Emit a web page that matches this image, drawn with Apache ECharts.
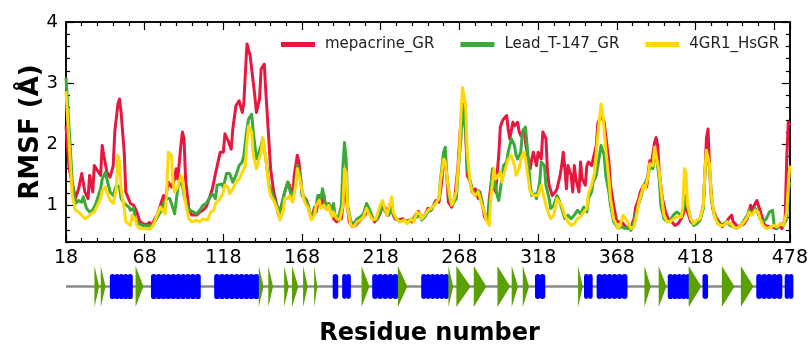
<!DOCTYPE html>
<html>
<head>
<meta charset="utf-8">
<script src="https://cdn.jsdelivr.net/npm/echarts@6/dist/echarts.min.js"></script>
<style>
  html, body { margin: 0; padding: 0; background: #fff; }
  #chart { width: 811px; height: 347px; }
</style>
</head>
<body>
<div id="chart"></div>
<script>
// RMSF per residue, [residue, value]
const mepacrine = [
  [18,2.30],[20,1.60],[24,1.11],[26,1.27],[28,1.52],[30,1.22],[32,1.11],[33,1.49],[35,1.22],[36,1.65],
  [38,1.57],[40,1.49],[41,1.98],[42,1.82],[44,1.54],[46,1.46],[48,1.65],[49,2.20],[51,2.66],[52,2.74],
  [53,2.52],[55,1.87],[56,1.22],[59,1.03],[61,1.00],[63,0.89],[65,0.73],[67,0.70],[69,0.68],[71,0.72],
  [73,0.67],[74,0.76],[76,0.84],[78,1.00],[80,1.16],[81,1.08],[83,1.38],[85,1.30],[87,1.43],[88,1.60],
  [89,1.43],[91,1.98],[92,2.20],[93,2.09],[94,1.43],[96,0.95],[98,0.84],[101,0.84],[103,0.89],[105,0.92],
  [107,0.97],[109,1.11],[111,1.27],[113,1.52],[114,1.49],[116,1.87],[118,1.87],[119,2.17],[121,2.06],[123,1.92],
  [124,2.25],[126,2.63],[128,2.71],[130,2.52],[131,2.68],[133,3.64],[135,3.45],[136,3.47],[138,2.79],[139,2.52],
  [141,2.74],[142,3.23],[144,3.31],[145,2.85],[147,2.03],[148,1.60],[150,1.22],[152,1.00],[153,0.84],[155,1.00],
  [157,1.22],[159,1.38],[160,1.33],[162,1.11],[163,1.49],[165,1.82],[166,1.71],[168,1.22],[169,1.14],[171,1.08],
  [172,0.95],[174,0.78],[176,0.97],[177,0.89],[179,1.16],[180,1.00],[182,1.16],[183,0.95],[185,1.03],[187,0.84],
  [188,0.78],[190,0.73],[193,0.78],[194,1.00],[195,1.38],[196,1.16],[198,0.73],[200,0.65],[202,0.67],[204,0.73],
  [206,0.78],[208,0.84],[210,0.95],[212,0.84],[214,0.73],[216,0.78],[218,0.89],[219,1.03],[221,0.95],[222,0.84],
  [224,1.03],[226,0.84],[227,0.78],[229,0.76],[232,0.78],[234,0.73],[236,0.76],[238,0.73],[240,0.84],[242,0.90],
  [244,0.80],[246,0.84],[248,0.95],[250,0.92],[253,1.08],[255,1.05],[257,1.43],[258,1.87],[260,1.49],[261,1.05],
  [263,0.97],[265,1.11],[267,1.60],[269,2.41],[270,2.63],[272,2.20],[273,1.49],[275,1.38],[276,1.22],[278,1.27],
  [280,1.11],[281,1.22],[283,0.97],[284,0.81],[286,0.73],[287,1.11],[289,1.54],[290,1.27],[291,1.22],[293,1.82],
  [294,2.28],[295,2.36],[296,2.41],[298,2.47],[299,2.25],[300,2.09],[302,2.36],[303,2.30],[305,2.36],[306,2.20],
  [307,2.14],[309,2.25],[310,2.03],[311,1.87],[313,1.60],[314,1.76],[315,1.87],[317,1.65],[318,1.87],[320,1.76],
  [321,2.20],[323,2.09],[324,1.54],[325,1.33],[327,1.16],[329,1.22],[330,1.27],[332,1.49],[333,1.65],[334,1.87],
  [335,1.60],[336,1.27],[337,1.65],[339,1.49],[340,1.22],[341,1.65],[342,1.43],[344,1.22],[345,1.71],[346,1.43],
  [348,1.33],[349,1.65],[350,1.71],[352,1.65],[353,1.76],[355,1.98],[356,2.35],[358,2.47],[360,2.36],[361,2.14],
  [363,1.71],[364,1.33],[366,1.00],[368,0.73],[369,0.70],[371,0.73],[373,0.67],[375,0.62],[377,0.65],[379,0.78],
  [380,0.97],[382,1.11],[383,1.22],[385,1.33],[387,1.30],[388,1.54],[389,1.73],[390,1.68],[392,2.03],[393,2.11],
  [394,1.98],[395,1.54],[397,1.11],[399,0.89],[401,0.76],[403,0.73],[405,0.67],[407,0.70],[409,0.78],[410,0.84],
  [412,1.00],[413,0.89],[415,0.73],[417,0.70],[419,0.73],[421,0.78],[423,1.00],[424,1.50],[425,2.10],[426,2.25],
  [427,1.60],[428,1.20],[429,0.95],[431,0.81],[433,0.73],[435,0.65],[437,0.70],[439,0.78],[441,0.84],[442,0.73],
  [445,0.65],[447,0.67],[449,0.70],[451,0.78],[453,1.00],[454,0.92],[456,1.03],[457,1.08],[459,0.92],[460,0.84],
  [462,0.67],[465,0.65],[467,0.65],[469,0.62],[471,0.67],[473,0.62],[475,0.78],[476,1.76],[477,2.36],[478,2.30]
];
const leadT147 = [
  [18,3.09],[20,2.25],[22,1.38],[24,1.03],[26,1.08],[28,1.05],[29,1.14],[31,0.95],[33,0.89],[35,0.92],
  [37,1.03],[40,1.27],[41,1.43],[43,1.54],[44,1.43],[46,1.22],[48,1.16],[50,1.33],[52,1.30],[53,1.11],
  [55,1.03],[58,0.97],[59,0.92],[61,0.95],[62,0.78],[64,0.70],[67,0.67],[70,0.66],[73,0.67],[75,0.76],
  [78,0.89],[80,1.03],[82,1.11],[84,1.11],[86,0.95],[87,0.86],[89,1.27],[90,1.38],[92,1.33],[93,1.16],
  [95,0.97],[97,0.92],[99,0.89],[101,0.86],[103,0.92],[105,1.00],[107,1.03],[109,1.11],[111,1.19],[113,1.11],
  [114,1.33],[117,1.35],[118,1.30],[120,1.52],[122,1.52],[124,1.38],[126,1.49],[128,1.65],[130,1.71],[131,1.82],
  [133,2.25],[134,2.41],[136,2.49],[137,2.20],[139,1.76],[140,1.82],[142,1.98],[143,2.09],[145,1.76],[147,1.33],
  [148,1.27],[150,1.11],[152,1.00],[153,0.84],[155,1.00],[157,1.22],[159,1.38],[160,1.27],[162,1.08],[164,1.38],
  [165,1.65],[167,1.49],[168,1.16],[170,1.11],[172,1.00],[174,0.78],[175,0.84],[177,1.00],[178,1.16],[180,1.11],
  [181,1.27],[183,1.00],[185,1.03],[186,0.89],[188,1.03],[189,0.84],[191,0.78],[193,1.00],[194,1.65],[195,2.03],
  [196,1.76],[197,1.00],[199,0.73],[201,0.70],[203,0.78],[205,0.81],[207,0.86],[209,1.03],[211,0.92],[213,0.78],
  [215,0.76],[217,0.84],[219,1.00],[221,0.89],[223,0.84],[225,0.95],[226,0.86],[228,0.78],[230,0.73],[233,0.76],
  [235,0.73],[237,0.76],[239,0.78],[241,0.81],[243,0.85],[244,0.76],[246,0.81],[248,0.89],[250,0.92],[253,1.05],
  [255,1.11],[256,1.43],[258,1.87],[259,1.95],[260,1.49],[262,1.08],[264,1.03],[266,1.11],[267,1.49],[269,2.09],
  [270,2.66],[272,2.25],[273,1.60],[275,1.38],[276,1.27],[278,1.16],[280,1.24],[282,1.11],[283,0.95],[285,0.84],
  [286,0.73],[288,1.27],[289,1.60],[290,1.43],[292,1.16],[293,1.08],[295,1.43],[296,1.65],[298,1.71],[299,1.87],
  [301,2.09],[303,1.98],[304,1.82],[305,1.76],[307,1.87],[308,2.20],[310,2.28],[311,1.98],[313,1.33],[314,1.16],
  [316,1.19],[317,1.11],[319,1.38],[320,1.71],[322,1.65],[323,1.33],[325,1.11],[326,0.95],[328,1.00],[330,1.16],
  [331,1.11],[333,0.95],[335,0.78],[337,0.84],[339,0.78],[341,0.84],[343,0.92],[345,0.86],[347,0.97],[349,0.89],
  [350,1.11],[352,1.22],[353,1.38],[355,1.49],[356,1.65],[358,1.98],[360,1.82],[361,1.49],[363,1.22],[364,1.00],
  [366,0.73],[369,0.62],[371,0.65],[373,0.62],[375,0.65],[377,0.59],[379,0.73],[381,0.95],[383,1.11],[385,1.30],
  [386,1.27],[388,1.49],[389,1.62],[391,1.60],[392,1.87],[393,1.82],[395,1.43],[396,1.00],[398,0.78],[400,0.73],
  [402,0.76],[404,0.84],[406,0.89],[409,0.84],[410,0.89],[412,1.16],[413,1.00],[415,0.78],[417,0.67],[419,0.70],
  [421,0.76],[423,0.95],[424,1.54],[425,1.87],[427,1.60],[428,1.11],[430,0.84],[432,0.73],[434,0.67],[436,0.70],
  [438,0.73],[440,0.67],[442,0.65],[444,0.62],[447,0.67],[449,0.76],[451,0.84],[452,0.92],[454,0.86],[456,0.95],
  [458,0.86],[459,0.78],[461,0.73],[463,0.78],[465,0.89],[467,0.92],[468,0.67],[470,0.62],[472,0.70],[474,0.67],
  [476,0.78],[477,1.22],[478,1.38]
];
const hsgr4GR1 = [
  [18,2.87],[20,1.98],[22,1.16],[24,0.92],[26,0.89],[28,0.84],[30,0.78],[32,0.81],[34,0.86],[36,0.89],
  [38,1.00],[40,1.11],[41,1.24],[43,1.30],[44,1.22],[46,1.08],[48,1.03],[50,1.27],[51,1.82],[52,1.71],
  [53,1.27],[55,0.95],[56,0.73],[59,0.67],[60,0.84],[62,0.78],[63,0.67],[65,0.62],[68,0.62],[71,0.61],
  [73,0.65],[75,0.78],[78,0.97],[79,1.00],[81,0.86],[82,1.22],[83,1.87],[85,1.82],[86,1.38],[87,1.22],
  [89,1.30],[91,1.49],[92,1.43],[94,1.03],[96,0.78],[98,0.73],[101,0.76],[103,0.73],[105,0.78],[108,0.76],
  [110,0.89],[112,0.92],[113,1.03],[116,1.11],[118,1.22],[119,1.33],[121,1.30],[122,1.19],[124,1.27],[126,1.38],
  [128,1.43],[130,1.54],[132,1.65],[133,2.03],[134,2.30],[136,2.20],[137,1.82],[139,1.60],[140,1.60],[142,1.87],
  [143,2.11],[145,1.76],[147,1.27],[148,1.16],[150,1.08],[152,0.95],[154,0.76],[156,0.89],[157,1.11],[159,1.11],
  [160,1.16],[162,1.05],[164,1.33],[165,1.60],[167,1.38],[169,1.11],[170,1.03],[172,0.95],[174,0.76],[176,0.84],
  [177,1.00],[179,1.08],[180,0.95],[182,1.00],[184,0.92],[185,1.00],[187,0.81],[188,0.89],[190,0.78],[192,0.76],
  [194,1.00],[195,1.60],[196,1.54],[197,0.95],[199,0.67],[201,0.65],[203,0.73],[205,0.76],[207,0.81],[209,0.95],
  [211,0.84],[213,0.76],[215,0.78],[217,0.95],[219,1.08],[220,1.00],[222,0.84],[224,1.03],[225,1.14],[226,0.89],
  [228,0.78],[230,0.73],[233,0.76],[235,0.70],[237,0.78],[239,0.73],[241,0.89],[243,0.86],[244,0.78],[246,0.84],
  [248,0.92],[250,0.95],[253,1.03],[255,1.11],[256,1.38],[258,1.76],[259,1.71],[261,1.27],[263,1.00],[264,1.05],
  [266,1.22],[268,1.87],[269,2.52],[270,2.93],[272,2.63],[273,1.87],[275,1.33],[276,1.22],[278,1.16],[280,1.22],
  [282,1.03],[284,0.89],[285,0.76],[287,0.67],[288,1.11],[290,1.60],[291,1.43],[292,1.43],[294,1.54],[295,1.38],
  [296,1.49],[298,1.65],[299,1.76],[301,1.82],[303,1.65],[304,1.49],[306,1.60],[307,1.76],[309,1.87],[310,1.76],
  [312,1.38],[313,1.22],[315,1.16],[316,1.19],[318,1.16],[320,1.33],[321,1.22],[323,1.00],[325,0.84],[326,0.78],
  [328,0.84],[330,1.11],[331,1.11],[333,1.00],[335,0.84],[337,0.73],[339,0.67],[341,0.70],[343,0.78],[345,0.81],
  [347,0.89],[349,0.95],[350,1.19],[352,1.33],[354,1.54],[355,1.87],[356,2.15],[357,2.41],[358,2.66],[359,2.52],
  [361,1.92],[363,1.43],[364,1.11],[366,0.78],[369,0.62],[370,0.67],[372,0.84],[373,0.86],[375,0.73],[377,0.62],
  [379,0.65],[381,0.89],[382,1.05],[384,1.22],[385,1.33],[386,1.27],[388,1.49],[389,1.68],[391,1.65],[392,1.95],
  [393,1.98],[395,1.54],[397,1.05],[398,0.84],[400,0.73],[402,0.73],[404,0.78],[406,0.81],[409,0.81],[410,1.00],
  [411,1.60],[412,1.54],[413,1.00],[415,0.78],[417,0.70],[419,0.76],[421,0.78],[423,1.00],[424,1.54],[425,1.90],
  [427,1.65],[428,1.16],[430,0.84],[432,0.70],[434,0.67],[436,0.67],[438,0.73],[440,0.70],[442,0.65],[444,0.62],
  [447,0.67],[449,0.73],[451,0.81],[452,0.89],[454,0.84],[456,0.92],[458,0.89],[459,0.78],[461,0.67],[463,0.62],
  [466,0.65],[468,0.67],[470,0.65],[472,0.70],[474,0.67],[476,0.89],[477,1.33],[478,1.65]
];

// secondary structure, [first residue, last residue]
const helices = [
  [46,60],[72,103],[112,140],[187,190],[193,198],[212,228],[243,260],[315,321],
  [346,351],[354,373],[399,413],[421,424],[455,471],[473,478]
];
const strands = [
  [36,39],[40,43],[62,67],[140,143],[146,149],[156,159],[161,165],[168,171],[175,177],
  [205,210],[228,234],[260,263],[265,274],[276,284],[291,299],[300,304],[307,311],
  [342,345],[384,388],[393,398],[412,420],[433,441],[445,453]
];

const xTickLabels = [18, 68, 118, 168, 218, 268, 318, 368, 418, 478];
const xMajorTicks = [18, 68, 118, 168, 218, 268, 318, 368, 418, 468, 478];
const yTickLabels = [1, 2, 3, 4];
const yMinorTicks = [0.4, 0.6, 0.8, 1.2, 1.4, 1.6, 1.8, 2.2, 2.4, 2.6, 2.8, 3.2, 3.4, 3.6, 3.8];

const seriesNames = ['mepacrine_GR', 'Lead_T-147_GR', '4GR1_HsGR'];
const seriesColors = ['#e8173f', '#3aaa3a', '#ffd80a'];

let xMinorTicks = [];
for (let r = 28; r < 478; r += 10) {
  if (xMajorTicks.indexOf(r) < 0) xMinorTicks.push(r);
}

const FONT = 'DejaVu Sans';
const chart = echarts.init(document.getElementById('chart'), null, {renderer: 'canvas'});

const axisLine = {show: true, lineStyle: {color: '#000', width: 1.5}};
const tickAxis = (pos, ticks, len, extra) => Object.assign({
  gridIndex: 0, type: 'value', position: pos, min: 18, max: 478,
  axisLine: axisLine,
  axisTick: {show: true, inside: true, length: len, customValues: ticks, lineStyle: {color: '#000', width: 1.2}},
  axisLabel: {show: false},
  splitLine: {show: false}
}, extra || {});
const tickYAxis = (pos, ticks, len, extra) => Object.assign({
  gridIndex: 0, type: 'value', position: pos, min: 0.4, max: 4,
  axisLine: axisLine,
  axisTick: {show: true, inside: true, length: len, customValues: ticks, lineStyle: {color: '#000', width: 1.2}},
  axisLabel: {show: false},
  splitLine: {show: false}
}, extra || {});

const options = {
  animation: false,
  textStyle: {fontFamily: FONT},
  grid: [
    {left: 66, right: 18, top: 22, bottom: 105},
    {left: 66, right: 18, top: 268, height: 50}
  ],
  legend: {
    left: 276, top: 32,
    itemWidth: 34, itemHeight: 5, itemGap: 26,
    icon: 'rect',
    textStyle: {fontFamily: FONT, fontSize: 15, color: '#222', padding: [0, 0, 0, 5]},
    data: seriesNames
  },
  xAxis: [
    tickAxis('bottom', xMajorTicks, 8, {
      axisLabel: {show: true, customValues: xTickLabels, fontSize: 19, color: '#000', margin: 7, fontFamily: FONT}
    }),
    tickAxis('bottom', xMinorTicks, 4),
    tickAxis('top', xMajorTicks, 8),
    tickAxis('top', xMinorTicks, 4),
    {
      gridIndex: 1, type: 'value', min: 18, max: 478, position: 'bottom',
      axisLine: {show: false}, axisTick: {show: false}, axisLabel: {show: false}, splitLine: {show: false},
      name: 'Residue number', nameLocation: 'middle', nameGap: 17, nameMoveOverlap: false,
      nameTextStyle: {fontFamily: FONT, fontSize: 24, fontWeight: 'bold', color: '#000'}
    }
  ],
  yAxis: [
    tickYAxis('left', yTickLabels, 8, {
      axisLabel: {show: true, customValues: yTickLabels, fontSize: 18, color: '#000', margin: 8, fontFamily: FONT},
      name: 'RMSF (Å)', nameLocation: 'middle', nameGap: 22, nameRotate: 90, nameMoveOverlap: false,
      nameTextStyle: {fontFamily: FONT, fontSize: 26, fontWeight: 'bold', color: '#000'}
    }),
    tickYAxis('left', yMinorTicks, 4),
    tickYAxis('right', yTickLabels, 8),
    tickYAxis('right', yMinorTicks, 4),
    {gridIndex: 1, type: 'value', min: 0, max: 1, show: false}
  ],
  series: [
    ...[mepacrine, leadT147, hsgr4GR1].map((d, i) => ({
      name: seriesNames[i], type: 'line', data: d,
      xAxisIndex: 0, yAxisIndex: 0,
      showSymbol: false, symbol: 'none',
      color: seriesColors[i],
      lineStyle: {color: seriesColors[i], width: 3, join: 'round'}
    })),
    {
      // backbone line of the secondary structure strip
      type: 'line', xAxisIndex: 4, yAxisIndex: 4,
      data: [[18, 0.5], [478, 0.5]], symbol: 'none',
      lineStyle: {color: '#8a8a8a', width: 2.5}, z: 1
    },
    {
      type: 'custom', xAxisIndex: 4, yAxisIndex: 4, data: helices, z: 3,
      encode: {x: [0, 1]},
      renderItem: (params, api) => {
        const a = api.coord([api.value(0), 0.5]);
        const b = api.coord([api.value(1), 0.5]);
        const len = b[0] - a[0];
        const n = Math.max(1, Math.round(len / 4.7));
        const step = len / n;
        const w = step + 0.8;
        const children = [];
        for (let k = 0; k < n; k++) {
          children.push({
            type: 'rect',
            shape: {x: a[0] + k * step - 0.4, y: a[1] - 12.5, width: w, height: 25, r: w / 2},
            style: {fill: '#0000ff'}
          });
        }
        children.push({
          type: 'rect',
          shape: {x: a[0] + 1, y: a[1] - 8.5, width: Math.max(len - 2, 0), height: 17},
          style: {fill: '#0000ff'}
        });
        return {type: 'group', children: children};
      }
    },
    {
      type: 'custom', xAxisIndex: 4, yAxisIndex: 4, data: strands, z: 4,
      encode: {x: [0, 1]},
      renderItem: (params, api) => {
        const a = api.coord([api.value(0), 0.5]);
        const b = api.coord([api.value(1), 0.5]);
        const h = 20.5;
        return {
          type: 'polygon',
          shape: {points: [[a[0], a[1] - h], [b[0], a[1]], [a[0], a[1] + h]]},
          style: {fill: '#5aa000'}
        };
      }
    }
  ]
};

chart.setOption(options);
</script>
</body>
</html>
